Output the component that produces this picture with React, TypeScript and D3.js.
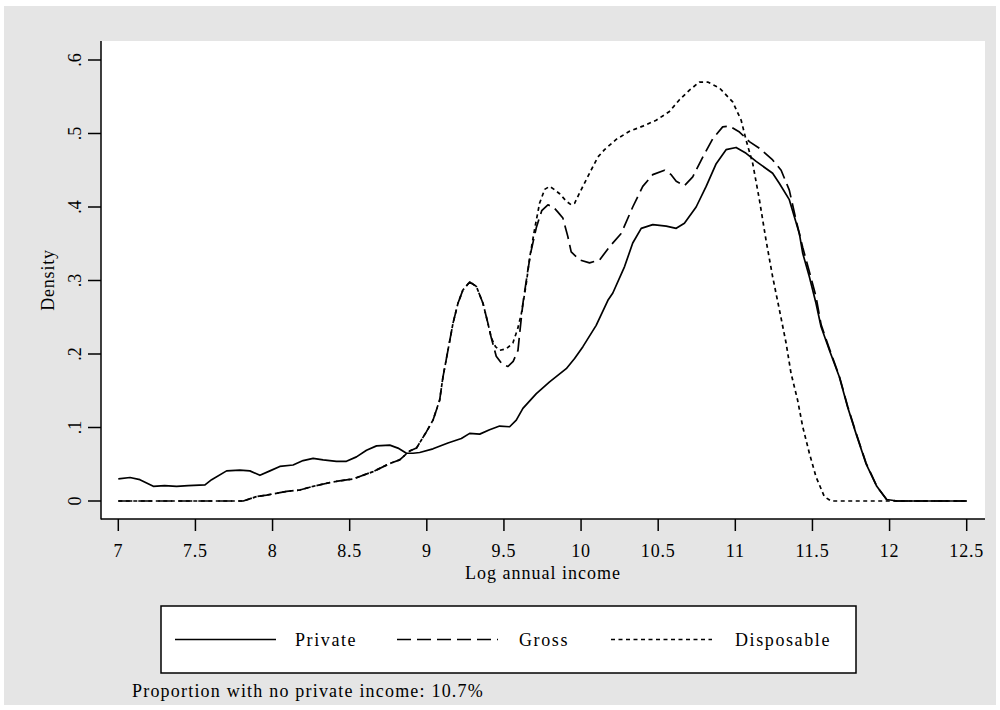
import React from "react";
import * as d3 from "d3";

// Kernel density estimates of log annual income, [log income, density]
const privateIncome: [number, number][] = [
  [7.0, 0.03], [7.076, 0.032], [7.14, 0.029], [7.227, 0.02], [7.3, 0.021],
  [7.378, 0.02], [7.453, 0.021], [7.562, 0.022], [7.605, 0.029], [7.702, 0.041],
  [7.788, 0.042], [7.853, 0.041], [7.918, 0.035], [7.983, 0.041], [8.047, 0.047],
  [8.133, 0.049], [8.198, 0.055], [8.263, 0.058], [8.328, 0.056], [8.414, 0.054],
  [8.479, 0.054], [8.544, 0.06], [8.609, 0.069], [8.674, 0.075], [8.76, 0.076],
  [8.813, 0.072], [8.868, 0.065], [8.911, 0.065], [8.954, 0.066], [9.04, 0.071],
  [9.137, 0.079], [9.224, 0.085], [9.278, 0.092], [9.343, 0.091], [9.407, 0.097],
  [9.472, 0.102], [9.537, 0.101], [9.58, 0.11], [9.623, 0.126], [9.71, 0.146],
  [9.796, 0.162], [9.904, 0.18], [9.958, 0.194], [10.012, 0.21], [10.098, 0.239],
  [10.174, 0.273], [10.206, 0.283], [10.282, 0.319], [10.335, 0.351], [10.39, 0.371],
  [10.465, 0.376], [10.552, 0.374], [10.617, 0.371], [10.67, 0.378], [10.746, 0.4],
  [10.811, 0.428], [10.876, 0.459], [10.94, 0.478], [11.005, 0.481], [11.07, 0.473],
  [11.135, 0.462], [11.242, 0.446], [11.286, 0.432], [11.35, 0.41], [11.415, 0.364],
  [11.437, 0.337], [11.48, 0.305], [11.523, 0.269], [11.556, 0.237], [11.61, 0.205],
  [11.674, 0.169], [11.728, 0.128], [11.782, 0.092], [11.847, 0.051], [11.917, 0.02],
  [11.981, 0.002], [12.05, 0.0], [12.5, 0.0],
];

const grossIncome: [number, number][] = [
  [7.0, 0.0], [7.81, 0.0], [7.896, 0.006], [7.961, 0.008], [8.091, 0.013],
  [8.177, 0.015], [8.263, 0.02], [8.392, 0.026], [8.522, 0.03], [8.652, 0.04],
  [8.76, 0.051], [8.824, 0.056], [8.889, 0.068], [8.933, 0.072], [8.965, 0.083],
  [8.997, 0.094], [9.04, 0.11], [9.083, 0.137], [9.105, 0.169], [9.137, 0.205],
  [9.17, 0.242], [9.202, 0.269], [9.234, 0.287], [9.278, 0.298], [9.321, 0.292],
  [9.364, 0.269], [9.396, 0.242], [9.418, 0.222], [9.45, 0.197], [9.49, 0.186],
  [9.526, 0.183], [9.56, 0.19], [9.591, 0.205], [9.602, 0.228], [9.623, 0.269],
  [9.655, 0.314], [9.676, 0.34], [9.71, 0.372], [9.745, 0.395], [9.785, 0.403],
  [9.82, 0.4], [9.85, 0.393], [9.882, 0.385], [9.914, 0.36], [9.936, 0.339],
  [9.99, 0.328], [10.055, 0.324], [10.12, 0.328], [10.185, 0.346], [10.26, 0.364],
  [10.335, 0.4], [10.4, 0.428], [10.465, 0.444], [10.541, 0.45], [10.584, 0.444],
  [10.617, 0.435], [10.67, 0.429], [10.724, 0.441], [10.789, 0.468], [10.854, 0.493],
  [10.918, 0.509], [10.962, 0.51], [11.027, 0.502], [11.091, 0.489], [11.156, 0.48],
  [11.242, 0.464], [11.297, 0.45], [11.35, 0.423], [11.394, 0.382], [11.437, 0.345],
  [11.48, 0.312], [11.523, 0.278], [11.556, 0.24], [11.61, 0.207], [11.674, 0.17],
  [11.728, 0.129], [11.782, 0.093], [11.847, 0.052], [11.917, 0.02], [11.981, 0.002],
  [12.05, 0.0], [12.5, 0.0],
];

const disposableIncome: [number, number][] = [
  [7.0, 0.0], [7.81, 0.0], [7.896, 0.006], [7.961, 0.008], [8.091, 0.013],
  [8.177, 0.015], [8.263, 0.02], [8.392, 0.026], [8.522, 0.03], [8.652, 0.04],
  [8.76, 0.051], [8.824, 0.056], [8.889, 0.068], [8.933, 0.072], [8.965, 0.083],
  [8.997, 0.094], [9.04, 0.11], [9.083, 0.137], [9.105, 0.169], [9.137, 0.205],
  [9.17, 0.242], [9.202, 0.269], [9.234, 0.287], [9.278, 0.298], [9.321, 0.292],
  [9.364, 0.269], [9.396, 0.242], [9.418, 0.222], [9.445, 0.21], [9.472, 0.205],
  [9.515, 0.207], [9.558, 0.215], [9.59, 0.235], [9.613, 0.255], [9.645, 0.296],
  [9.666, 0.33], [9.699, 0.37], [9.731, 0.405], [9.764, 0.424], [9.796, 0.428],
  [9.825, 0.424], [9.861, 0.418], [9.904, 0.408], [9.936, 0.403], [9.958, 0.405],
  [9.99, 0.419], [10.055, 0.446], [10.109, 0.468], [10.152, 0.478], [10.228, 0.492],
  [10.314, 0.503], [10.4, 0.51], [10.487, 0.518], [10.573, 0.53], [10.638, 0.546],
  [10.703, 0.559], [10.767, 0.57], [10.821, 0.57], [10.897, 0.562], [10.983, 0.543],
  [11.038, 0.518], [11.07, 0.491], [11.113, 0.459], [11.156, 0.41], [11.199, 0.355],
  [11.242, 0.305], [11.286, 0.26], [11.329, 0.215], [11.361, 0.174], [11.404, 0.137],
  [11.437, 0.101], [11.48, 0.065], [11.523, 0.033], [11.577, 0.006], [11.62, 0.0],
  [12.5, 0.0],
];

const xTicks = [7, 7.5, 8, 8.5, 9, 9.5, 10, 10.5, 11, 11.5, 12, 12.5];
const yTicks = [0, 0.1, 0.2, 0.3, 0.4, 0.5, 0.6];
const yTickLabels = ["0", ".1", ".2", ".3", ".4", ".5", ".6"];

const seriesNames = ["Private", "Gross", "Disposable"];
const seriesDash = ["none", "14,6", "4,3.5"];
const seriesData = [privateIncome, grossIncome, disposableIncome];

const xTitle = "Log annual income";
const yTitle = "Density";
const note = "Proportion with no private income: 10.7%";

const FONT = "'Liberation Serif', 'Times New Roman', serif";

export default function App() {
  const x = d3.scaleLinear().domain([7, 12.5]).range([118.3, 966.7]);
  const y = d3.scaleLinear().domain([0, 0.6]).range([501, 60]);
  const line = d3
    .line<[number, number]>()
    .x((d) => x(d[0]))
    .y((d) => y(d[1]));

  const plot = { left: 101, right: 985, top: 41, bottom: 519 };
  const legend = { x: 161, y: 606, w: 695, h: 67 };
  const legendY = legend.y + legend.h / 2;
  const keyStarts = [175, 397, 611];
  const textStarts = [295, 519, 735];

  return (
    <svg
      width={1000}
      height={710}
      style={{ position: "absolute", left: 0, top: 0, background: "#ffffff" }}
      fontFamily={FONT}
    >
      <rect x={4} y={6} width={992} height={699} fill="#e5e5e5" />
      <rect
        x={plot.left}
        y={plot.top}
        width={plot.right - plot.left}
        height={plot.bottom - plot.top}
        fill="#ffffff"
      />

      {/* density curves */}
      {seriesData.map((data, i) => (
        <path
          key={seriesNames[i]}
          d={line(data) ?? ""}
          fill="none"
          stroke="#000"
          strokeWidth={1.7}
          strokeDasharray={seriesDash[i]}
          strokeLinejoin="round"
        />
      ))}

      {/* axes */}
      <line x1={plot.left} x2={plot.left} y1={plot.top} y2={plot.bottom + 0.5} stroke="#000" strokeWidth={1.5} />
      <line x1={plot.left} x2={plot.right} y1={plot.bottom} y2={plot.bottom} stroke="#000" strokeWidth={1.5} />

      {xTicks.map((t) => (
        <g key={`x${t}`}>
          <line x1={x(t)} x2={x(t)} y1={plot.bottom} y2={plot.bottom + 12} stroke="#000" strokeWidth={1.5} />
          <text
            x={x(t)}
            y={557}
            textAnchor="middle"
            fontSize={18}
            letterSpacing={0.8}
            fill="#000"
          >
            {String(t)}
          </text>
        </g>
      ))}

      {yTicks.map((t, i) => (
        <g key={`y${t}`}>
          <line x1={plot.left - 13} x2={plot.left} y1={y(t)} y2={y(t)} stroke="#000" strokeWidth={1.5} />
          <text
            transform={`translate(81, ${y(t)}) rotate(-90)`}
            textAnchor="middle"
            fontSize={18}
            fill="#000"
          >
            {yTickLabels[i]}
          </text>
        </g>
      ))}

      <text
        transform={`translate(54, ${(plot.top + plot.bottom) / 2}) rotate(-90)`}
        textAnchor="middle"
        fontSize={18}
        letterSpacing={0.8}
        fill="#000"
      >
        {yTitle}
      </text>
      <text x={543} y={579} textAnchor="middle" fontSize={18} letterSpacing={1} fill="#000">
        {xTitle}
      </text>

      {/* legend */}
      <rect
        x={legend.x}
        y={legend.y}
        width={legend.w}
        height={legend.h}
        fill="#ffffff"
        stroke="#000"
        strokeWidth={1.5}
      />
      {seriesNames.map((name, i) => (
        <g key={`leg${name}`}>
          <line
            x1={keyStarts[i]}
            x2={keyStarts[i] + 101}
            y1={legendY}
            y2={legendY}
            stroke="#000"
            strokeWidth={1.7}
            strokeDasharray={seriesDash[i]}
          />
          <text x={textStarts[i]} y={legendY + 6} fontSize={18} letterSpacing={1.6} fill="#000">
            {name}
          </text>
        </g>
      ))}

      <text x={132} y={697} fontSize={18} letterSpacing={1.2} fill="#000">
        {note}
      </text>
    </svg>
  );
}
